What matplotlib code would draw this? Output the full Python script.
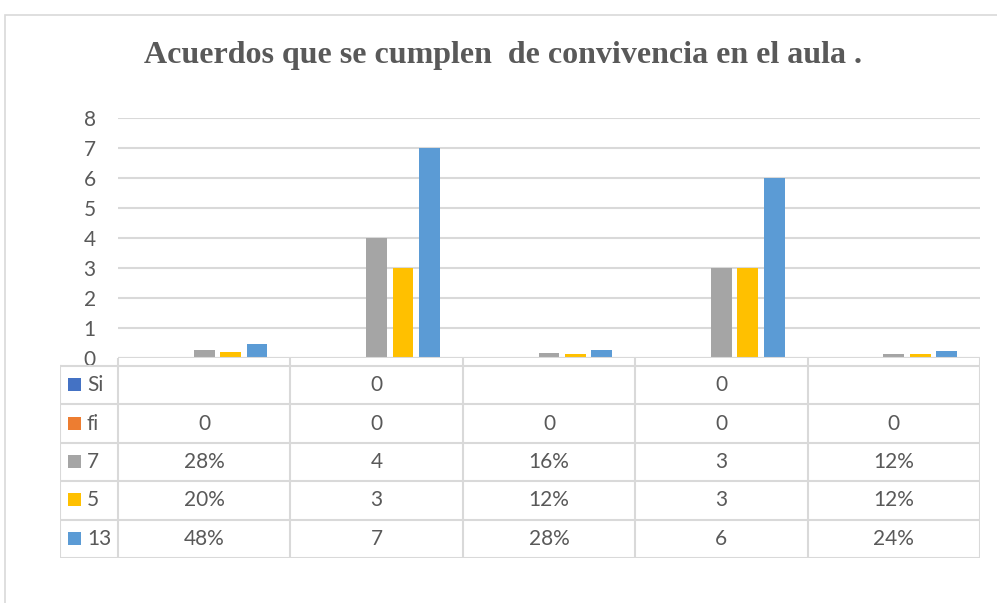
import numpy as np
import matplotlib
matplotlib.use("Agg")
import matplotlib.pyplot as plt
from matplotlib.patches import Rectangle

# data
categories = ["", "", "", "", ""]
series_names = ["Si", "fi", "7", "5", "13"]
si_vals = [None, 0, None, 0, None]
fi_vals = [0, 0, 0, 0, 0]
siete_vals = [0.28, 4, 0.16, 3, 0.12]
cinco_vals = [0.20, 3, 0.12, 3, 0.12]
trece_vals = [0.48, 7, 0.28, 6, 0.24]
pct_cols = [True, False, True, False, True]
colors = ["#4472C4", "#ED7D31", "#A5A5A5", "#FFC000", "#5B9BD5"]
title = "Acuerdos que se cumplen  de convivencia en el aula ."

W, H = 997, 603
DPI = 100
grid_c = "#D9D9D9"
txt_c = "#595959"
FONT = ["Lato", "DejaVu Sans"]
FS = 15

fig = plt.figure(figsize=(W / DPI, H / DPI), dpi=DPI)

def px_axes(l, t, r, b):
    return fig.add_axes([l / W, 1 - b / H, (r - l) / W, (b - t) / H])

# outer chart border (clipped at right/bottom like the screenshot)
fig.patches.append(Rectangle((5 / W, -0.1), 1.2, (H - 15) / H + 0.1,
                             transform=fig.transFigure, fill=False,
                             edgecolor="#D9D9D9", linewidth=1.2))

fig.text(503 / W, 1 - 63 / H, title, ha="center", va="baseline",
         fontsize=23, fontweight="bold", family="Liberation Serif", color=txt_c)

# plot area
L, R, T, B = 118, 980, 118, 358
ax = px_axes(L, T, R, B)
all_vals = [si_vals, fi_vals, siete_vals, cinco_vals, trece_vals]
n = len(categories)
x = np.arange(n) + 0.5
step, width = 0.153, 0.121
for k, (vals, col) in enumerate(zip(all_vals, colors)):
    h = [np.nan if v is None else v for v in vals]
    ax.bar(x + (k - 2) * step, h, width=width, color=col, linewidth=0, zorder=3)
ax.set_xlim(0, n)
ax.set_ylim(0, 8)
ax.set_yticks(range(0, 9))
ax.set_xticks([])
ax.grid(axis="y", color=grid_c, linewidth=1.5, zorder=0)
for s in ax.spines.values():
    s.set_visible(False)
ax.tick_params(axis="y", length=0, pad=16, labelsize=FS, labelcolor=txt_c)
for lab in ax.get_yticklabels():
    lab.set_family(FONT)
ax.axhline(0, color=grid_c, linewidth=1.5, zorder=4)

# data table
TL, TT, TB = 60, 358, 558
row_h = (TB - 366) / 5.0
strip = (366 - TT) / row_h
lab_w = (L - TL) / ((R - L) / n)
tax = px_axes(TL, TT, R, TB)
tax.set_xlim(-lab_w, n)
tax.set_ylim(5, -strip)
tax.axis("off")
lk = dict(color=grid_c, linewidth=1.5, solid_capstyle="projecting")
for i in range(n + 1):
    tax.plot([i, i], [-strip, 5], **lk)
tax.plot([-lab_w, -lab_w], [0, 5], **lk)
for j in range(6):
    tax.plot([-lab_w, n], [j, j], **lk)

def cell_text(v, pct):
    if v is None:
        return ""
    if pct and v != 0:
        return f"{v:.0%}"
    return f"{v:g}"

for j, (name, vals, col) in enumerate(zip(series_names, all_vals, colors)):
    yc = j + 0.5
    tax.add_patch(Rectangle((-lab_w + 8 / 173, yc - 7 / row_h), 13 / 173, 13 / row_h,
                            facecolor=col, edgecolor="none"))
    tax.text(-lab_w + 27 / 173, yc, name, ha="left", va="center",
             fontsize=FS, color=txt_c, family=FONT)
    for i, v in enumerate(vals):
        tax.text(i + 0.5, yc, cell_text(v, pct_cols[i]), ha="center", va="center",
                 fontsize=FS, color=txt_c, family=FONT)

fig.savefig("out.png", dpi=DPI)
